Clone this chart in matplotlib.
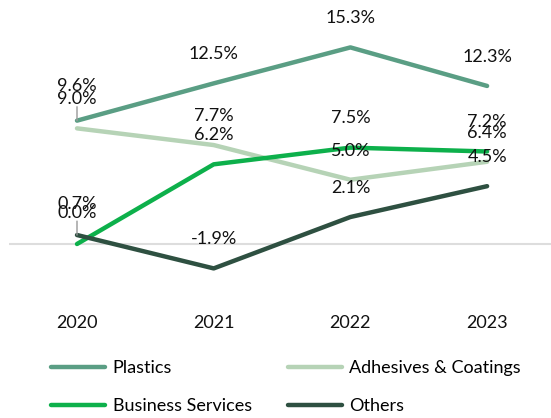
import matplotlib.pyplot as plt
from matplotlib.lines import Line2D

plt.rcParams['font.family'] = ['Lato', 'DejaVu Sans']

years = ['2020', '2021', '2022', '2023']
plastics = [9.6, 12.5, 15.3, 12.3]
adhesives = [9.0, 7.7, 5.0, 6.4]
business = [0.0, 6.2, 7.5, 7.2]
others = [0.7, -1.9, 2.1, 4.5]

series = [
    ('Plastics', plastics, '#5a9e84'),
    ('Adhesives & Coatings', adhesives, '#b6d3b6'),
    ('Business Services', business, '#0db04b'),
    ('Others', others, '#2e5041'),
]

W, H = 551, 418
fig = plt.figure(figsize=(W / 100, H / 100), dpi=100)
# axes spans pixel rows 0..290, columns 9..551
ax = fig.add_axes([9 / W, 1 - 290 / H, (551 - 9) / W, 290 / H])

px_per_unit = 12.85
zero_px = 244
ax.set_ylim(-(290 - zero_px) / px_per_unit, zero_px / px_per_unit)
x_step = 136.7
ax.set_xlim(-(77 - 9) / x_step, (551 - 77) / x_step)

x = list(range(len(years)))
ax.axhline(0, color='#dddddd', lw=1.5, zorder=1)

for name, vals, col in series:
    ax.plot(x, vals, color=col, lw=3.2, solid_capstyle='round', zorder=3)

# value labels sit above each point
offset_pt = 21
label_shift = {('Plastics', 0): 4, ('Adhesives & Coatings', 0): 0,
               ('Others', 0): 1, ('Business Services', 0): 1}
for name, vals, col in series:
    for i, v in enumerate(vals):
        extra = label_shift.get((name, i), 0)
        ax.annotate(f'{v:.1f}%', (i, v), xytext=(0, offset_pt + extra),
                    textcoords='offset points', ha='center', va='center',
                    fontsize=13, color='#111111', zorder=5)

# leader lines for the crowded 2020 labels
for vals, length in [(plastics, 10), (others, 10)]:
    ax.annotate('', (0, vals[0]), xytext=(0, length), textcoords='offset points',
                arrowprops=dict(arrowstyle='-', color='#999999', lw=1,
                                shrinkA=0, shrinkB=0), zorder=4)

ax.set_xticks(x)
ax.set_xticklabels(years, fontsize=13, color='#111111')
ax.tick_params(axis='x', length=0, pad=18)
ax.set_yticks([])
for s in ax.spines.values():
    s.set_visible(False)

# legend fills column-wise, so order gives rows Plastics/Adhesives, Business/Others
order = [0, 2, 1, 3]
handles = [Line2D([0], [0], color=series[k][2], lw=3.2, solid_capstyle='round') for k in order]
labels = [series[k][0] for k in order]
fig.legend(handles, labels, ncol=2, loc='upper left', bbox_to_anchor=(44 / W, 1 - 353 / H),
           frameon=False, fontsize=13, handlelength=3.0, handletextpad=0.4,
           columnspacing=2.0, labelspacing=1.2, borderaxespad=0)

fig.savefig('out.png', dpi=100)
